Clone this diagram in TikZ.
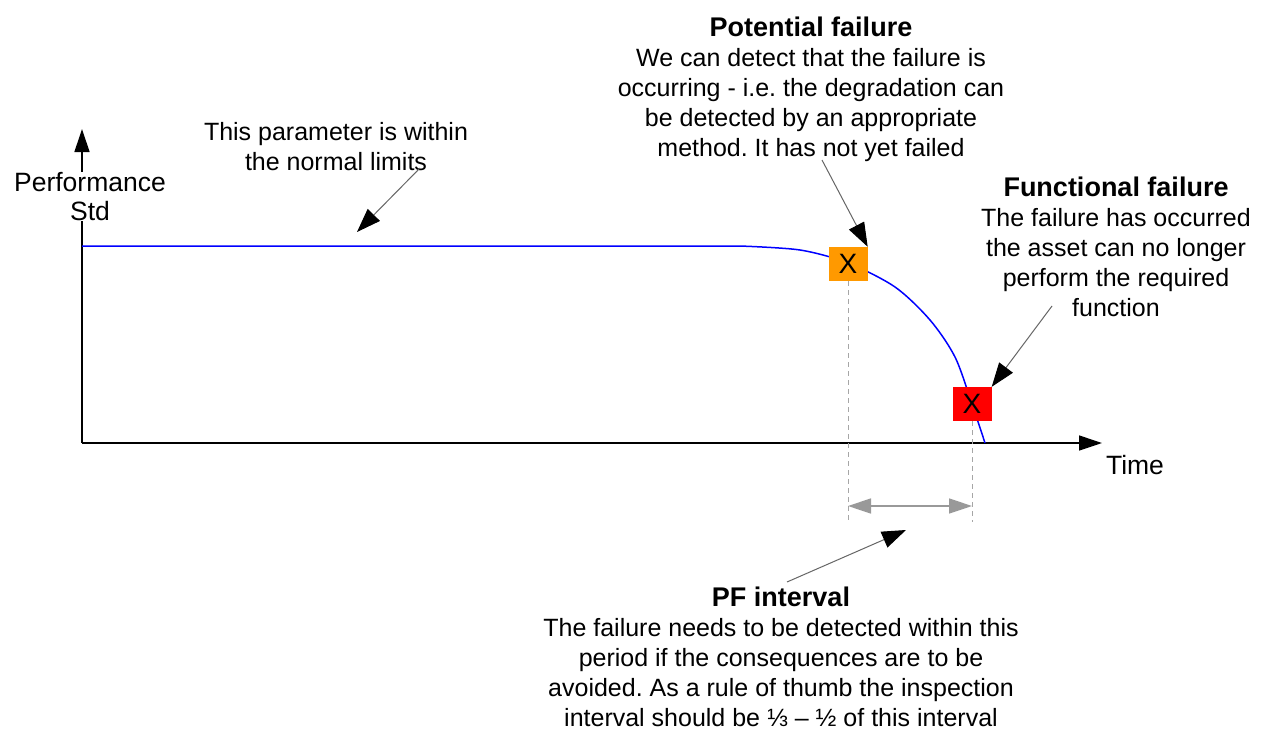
\documentclass[tikz,border=0pt]{standalone}
\usepackage{fontspec}
\setmainfont{Liberation Sans}
\usetikzlibrary{arrows.meta}
\begin{document}
\frenchspacing
\begin{tikzpicture}[x=1pt,y=-1pt,
  axis/.style={line width=1.3pt,-{Triangle[length=23pt,width=15pt]}},
  pointer/.style={draw=black!60,line width=1pt,-{Triangle[length=24pt,width=17pt,color=black]}},
  guide/.style={draw=black!35,line width=1pt,dash pattern=on 5pt off 4pt},
  span/.style={draw=black!40,line width=1.5pt,{Triangle[length=23pt,width=15pt]}-{Triangle[length=23pt,width=15pt]}},
  trend/.style={draw=blue,line width=1.5pt},
  marker/.style={minimum width=39pt,minimum height=34pt,inner sep=0pt,font=\fontsize{28}{30}\selectfont},
  body/.style={align=center,inner sep=0pt,font=\fontsize{25}{30}\selectfont},
  axislabel/.style={align=center,inner sep=0pt,font=\fontsize{26.5}{29}\selectfont}
]
\useasboundingbox[fill=white] (0,0) rectangle (1263,731);

% axes
\coordinate (O) at (82,443);
\coordinate (ytop) at (82,129);
\coordinate (xend) at (1102,443);
\draw[axis] (O) -- (ytop);
\draw[axis] (O) -- (xend);
\node[axislabel,fill=white,anchor=north] (ylab) at (90,172) {Performance\\Std};
\node[axislabel,anchor=north] (xlab) at (1135,455) {Time};

% performance trend
\draw[trend] (O |- 0,246) -- (740,246)
  plot[smooth,tension=0.5] coordinates {(740,246) (800,250) (848,263) (895,287) (930,320) (955,357) (972,404) (985,443)};

% failure markers
\node[marker,fill={rgb,255:red,255;green,153;blue,0}] (pmark) at (848,264) {X};
\node[marker,fill=red] (fmark) at (972,404) {X};

% P-F interval guides
\coordinate (pbot) at (848,522);
\coordinate (fbot) at (972,522);
\coordinate (pspan) at (848,506);
\coordinate (fspan) at (972,506);
\draw[guide] (pmark.south) -- (pbot);
\draw[guide] (fmark.south) -- (fbot);
\draw[span] (pspan) -- (fspan);

% annotations
\node[body,anchor=north] (normaltxt) at (336,122) {This parameter is within\\the normal limits};
\node[body,anchor=north] (pottxt) at (811,17) {{\fontsize{27}{30}\selectfont\bfseries Potential failure}\\We can detect that the failure is\\occurring - i.e. the degradation can\\be detected by an appropriate\\method. It has not yet failed};
\node[body,anchor=north] (functxt) at (1116,177) {{\fontsize{27}{30}\selectfont\bfseries Functional failure}\\The failure has occurred\\the asset can no longer\\perform the required\\function};
\node[body,anchor=north] (pftxt) at (781,587) {{\fontsize{27}{30}\selectfont\bfseries PF interval}\\The failure needs to be detected within this\\period if the consequences are to be\\avoided. As a rule of thumb the inspection\\interval should be ⅓ – ½ of this interval};

% pointers
\coordinate (normalfrom) at (420,168);
\coordinate (normalto) at (357,232);
\coordinate (potfrom) at (822,160);
\coordinate (funcfrom) at (1052,306);
\coordinate (pffrom) at (787,582);
\coordinate (pfto) at (906,530);
\draw[pointer] (normalfrom) -- (normalto);
\draw[pointer] (potfrom) -- (pmark.north east);
\draw[pointer] (funcfrom) -- (fmark.north east);
\draw[pointer] (pffrom) -- (pfto);
\end{tikzpicture}
\end{document}
